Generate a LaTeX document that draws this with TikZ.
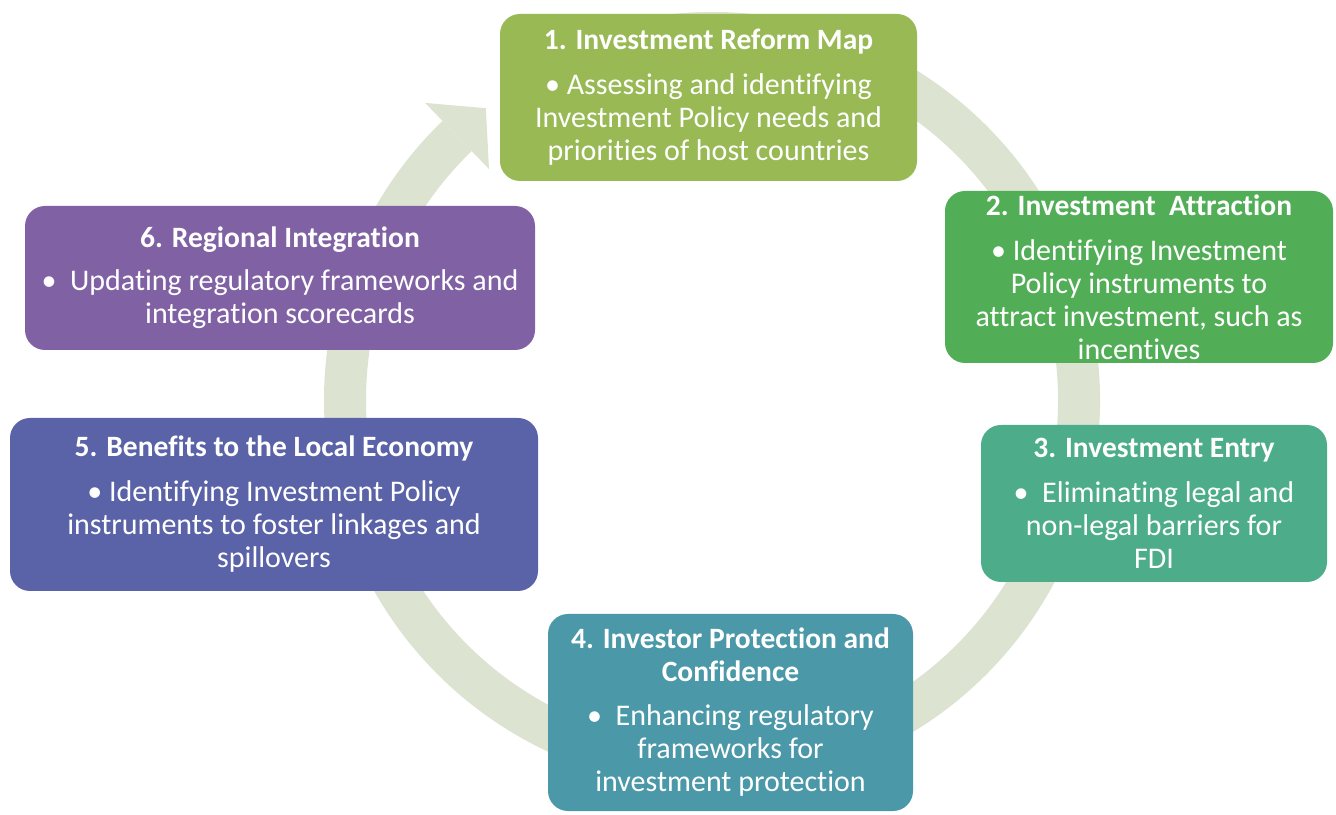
\documentclass[tikz,border=0pt]{standalone}
\usepackage{fontspec}
\setmainfont{Carlito}[Ligatures=NoCommon]
\usetikzlibrary{calc}

\definecolor{ringgrey}{HTML}{DCE3D1}
\definecolor{reformgreen}{HTML}{98B954}
\definecolor{attractgreen}{HTML}{52AE56}
\definecolor{entryteal}{HTML}{4DAD8A}
\definecolor{protectblue}{HTML}{4B98A8}
\definecolor{benefitblue}{HTML}{5A62A8}
\definecolor{integpurple}{HTML}{8062A4}

\newcommand{\stagetitle}[1]{{\fontsize{29.5}{33}\selectfont\bfseries #1}}

\tikzset{
  stage/.style={rounded corners=20pt, text=white, align=center, inner sep=0pt,
    font=\fontsize{30}{33}\selectfont},
  ring/.style={draw=ringgrey, line width=42pt}
}

\begin{document}
\begin{tikzpicture}[x=1pt,y=1pt]
  \useasboundingbox (0,0) rectangle (1336,814);
  \coordinate (hub) at (712,414);
  \draw[ring] ($(hub)+(100:367)$) arc[start angle=100, end angle=-226, radius=367];
  \fill[ringgrey] ($(hub)+(134:413)$) -- ($(hub)+(134:367)+(44:40)$)
                  -- ($(hub)+(134:321)$) -- cycle;

  \node[stage, fill=reformgreen, minimum width=417, minimum height=167] (reform) at (708.5,716.5)
    {\stagetitle{1. Investment Reform Map}\\[12pt]
     • Assessing and identifying\\ Investment Policy needs and\\ priorities of host countries};
  \node[stage, fill=attractgreen, minimum width=388, minimum height=172] (attract) at (1139,537)
    {\stagetitle{2. Investment\ \ Attraction}\\[12pt]
     • Identifying Investment\\ Policy instruments to\\ attract investment, such as\\ incentives};
  \node[stage, fill=entryteal, minimum width=346, minimum height=157] (entry) at (1154,310.5)
    {\stagetitle{3. Investment Entry}\\[12pt]
     •\ \ Eliminating legal and\\ non-legal barriers for\\ FDI};
  \node[stage, fill=protectblue, minimum width=365, minimum height=197] (protect) at (730.5,101.5)
    {\stagetitle{4. Investor Protection and}\\ \stagetitle{Confidence}\\[11pt]
     •\ \ Enhancing regulatory\\ frameworks for\\ investment protection};
  \node[stage, fill=benefitblue, minimum width=528, minimum height=173] (benefit) at (274,309.5)
    {\stagetitle{5. Benefits to the Local Economy}\\[12pt]
     • Identifying Investment Policy\\ instruments to foster linkages and\\ spillovers};
  \node[stage, fill=integpurple, minimum width=510, minimum height=144] (integ) at (280,536)
    {\stagetitle{6. Regional Integration}\\[10pt]
     •\ \ Updating regulatory frameworks and\\ integration scorecards};
\end{tikzpicture}
\end{document}
